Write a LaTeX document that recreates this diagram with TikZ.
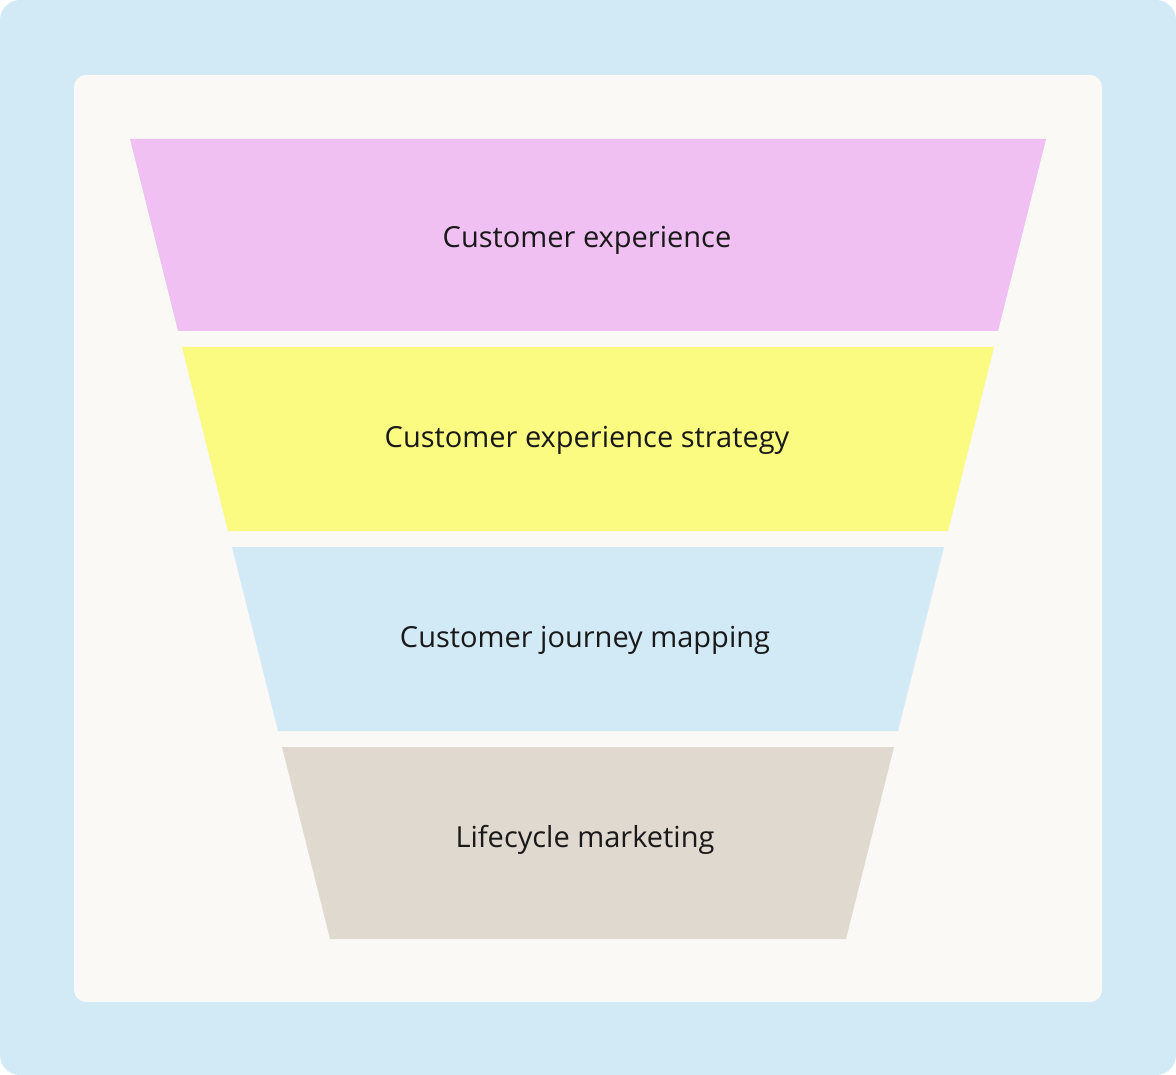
\documentclass[tikz,border=0pt]{standalone}
\usepackage{fontspec}
\setmainfont{Open Sans}
\definecolor{bgblue}{HTML}{D2E9F6}
\definecolor{panel}{HTML}{FAF9F5}
\definecolor{pink}{HTML}{F0C0F2}
\definecolor{yel}{HTML}{FBFB82}
\definecolor{lblue}{HTML}{D2E9F6}
\definecolor{beige}{HTML}{DFD9CF}
\tikzset{lbl/.style={font=\fontsize{29}{34}\selectfont, text=black!90}}
\begin{document}
\begin{tikzpicture}[x=1pt,y=-1pt]
\useasboundingbox (0,0) rectangle (1176,1075);
\fill[bgblue, rounded corners=20pt] (0,0) rectangle (1176,1075);
\fill[panel, rounded corners=12pt] (74,75) rectangle (1102,1002);
\fill[pink] (130,139) -- (1046,139) -- (998,331) -- (178,331) -- cycle;
\fill[yel] (182,347) -- (994,347) -- (948,531) -- (228,531) -- cycle;
\fill[lblue] (232,547) -- (944,547) -- (898,731) -- (278,731) -- cycle;
\fill[beige] (282,747) -- (894,747) -- (846,939) -- (330,939) -- cycle;
\node[lbl] (t1) at (587,240) {Customer experience};
\node[lbl] (t2) at (587,440) {Customer experience strategy};
\node[lbl] (t3) at (585,640) {Customer journey mapping};
\node[lbl] (t4) at (585,840) {Lifecycle marketing};
\end{tikzpicture}
\end{document}
